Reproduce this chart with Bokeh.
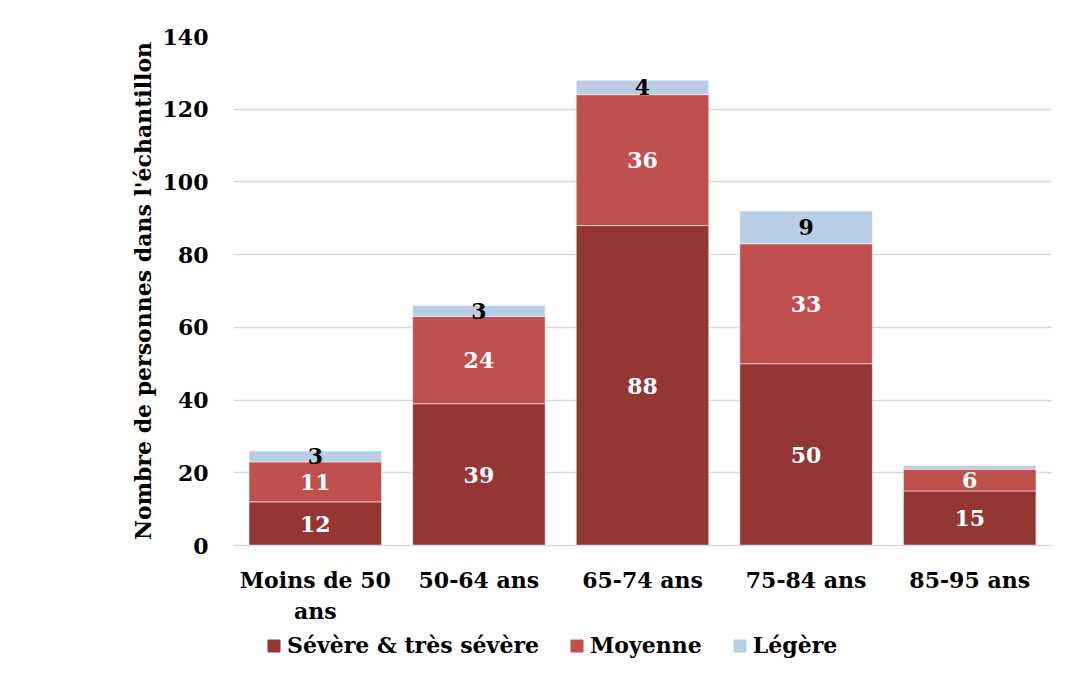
import numpy as np
from bokeh.plotting import figure
from bokeh.layouts import column
from bokeh.models import ColumnDataSource, Legend, LegendItem, FactorRange
from bokeh.core.properties import value
from bokeh.embed import file_html
from bokeh.resources import INLINE

categories = ["Moins de 50\nans", "50-64 ans", "65-74 ans", "75-84 ans", "85-95 ans"]
severe = [12, 39, 88, 50, 15]
moyenne = [11, 24, 36, 33, 6]
legere = [3, 3, 4, 9, 1]
legere_labels = ["3", "3", "4", "9", ""]
series_names = ["Sévère & très sévère", "Moyenne", "Légère"]
colors = ["#943634", "#C0504D", "#B9CDE5"]
label_colors = ["white", "white", "black"]
y_ticks = [0, 20, 40, 60, 80, 100, 120, 140]

FONT = "DejaVu Serif"

p = figure(x_range=FactorRange(*categories), y_range=(0, 140),
           width=1064, height=628, output_backend="svg", toolbar_location=None,
           min_border_left=233, min_border_right=13, min_border_top=36, min_border_bottom=83)

src = ColumnDataSource(dict(cat=categories, s=severe, m=moyenne, l=legere))
stack = ["s", "m", "l"]
renderers = p.vbar_stack(stack, x="cat", width=0.81, color=colors, source=src,
                         line_color="white", line_width=0.5)

vals = [np.array(severe), np.array(moyenne), np.array(legere)]
texts = [[str(v) for v in severe], [str(v) for v in moyenne], legere_labels]
base = np.zeros(len(categories))
for v, t, c in zip(vals, texts, label_colors):
    mid = base + v / 2
    base = base + v
    p.text(x=categories, y=list(mid), text=t, text_color=c,
           text_font=value(FONT), text_font_style="bold", text_font_size="22px",
           text_align="center", text_baseline="middle")

p.outline_line_color = None
p.xgrid.grid_line_color = None
p.ygrid.grid_line_color = "#D9D9D9"
p.ygrid.grid_line_width = 1.5
p.yaxis.ticker = y_ticks
p.yaxis.axis_line_color = None
p.yaxis.major_tick_line_color = None
p.yaxis.minor_tick_line_color = None
p.yaxis.major_label_standoff = 19
p.yaxis.axis_label = "Nombre de personnes dans l'échantillon"
p.yaxis.axis_label_standoff = 4
for ax in (p.xaxis, p.yaxis):
    ax.major_label_text_font = FONT
    ax.major_label_text_font_style = "bold"
    ax.major_label_text_font_size = "22px"
    ax.major_label_text_color = "black"
p.yaxis.axis_label_text_font = FONT
p.yaxis.axis_label_text_font_style = "bold"
p.yaxis.axis_label_text_font_size = "22px"
p.yaxis.axis_label_text_color = "black"

p.xaxis.axis_line_color = "#D9D9D9"
p.xaxis.axis_line_width = 1.5
p.xaxis.major_tick_line_color = None
p.xaxis.minor_tick_line_color = None
p.xaxis.major_label_standoff = 15
p.x_range.range_padding = 0.0
p.x_range.factor_padding = 0.0

# legend strip
pl = figure(width=1064, height=40, x_range=(0, 1), y_range=(0, 1), output_backend="svg",
            toolbar_location=None, min_border=0, x_axis_location=None, y_axis_location=None)
pl.grid.visible = False
pl.outline_line_color = None
dummies = [pl.vbar(x=[-10], top=[-10], width=0.1, color=c) for c in colors]
legend = Legend(items=[LegendItem(label=n, renderers=[r]) for n, r in zip(series_names, dummies)],
                orientation="horizontal", location=(33, 10),
                label_text_font=FONT, label_text_font_style="bold", label_text_font_size="22px",
                label_text_color="black",
                glyph_width=15, glyph_height=15, spacing=30, label_standoff=6,
                border_line_color=None, background_fill_alpha=0, padding=4, margin=0)
pl.add_layout(legend, "center")

layout = column(p, pl, spacing=0)
open("out.html", "w").write(file_html(layout, INLINE))
